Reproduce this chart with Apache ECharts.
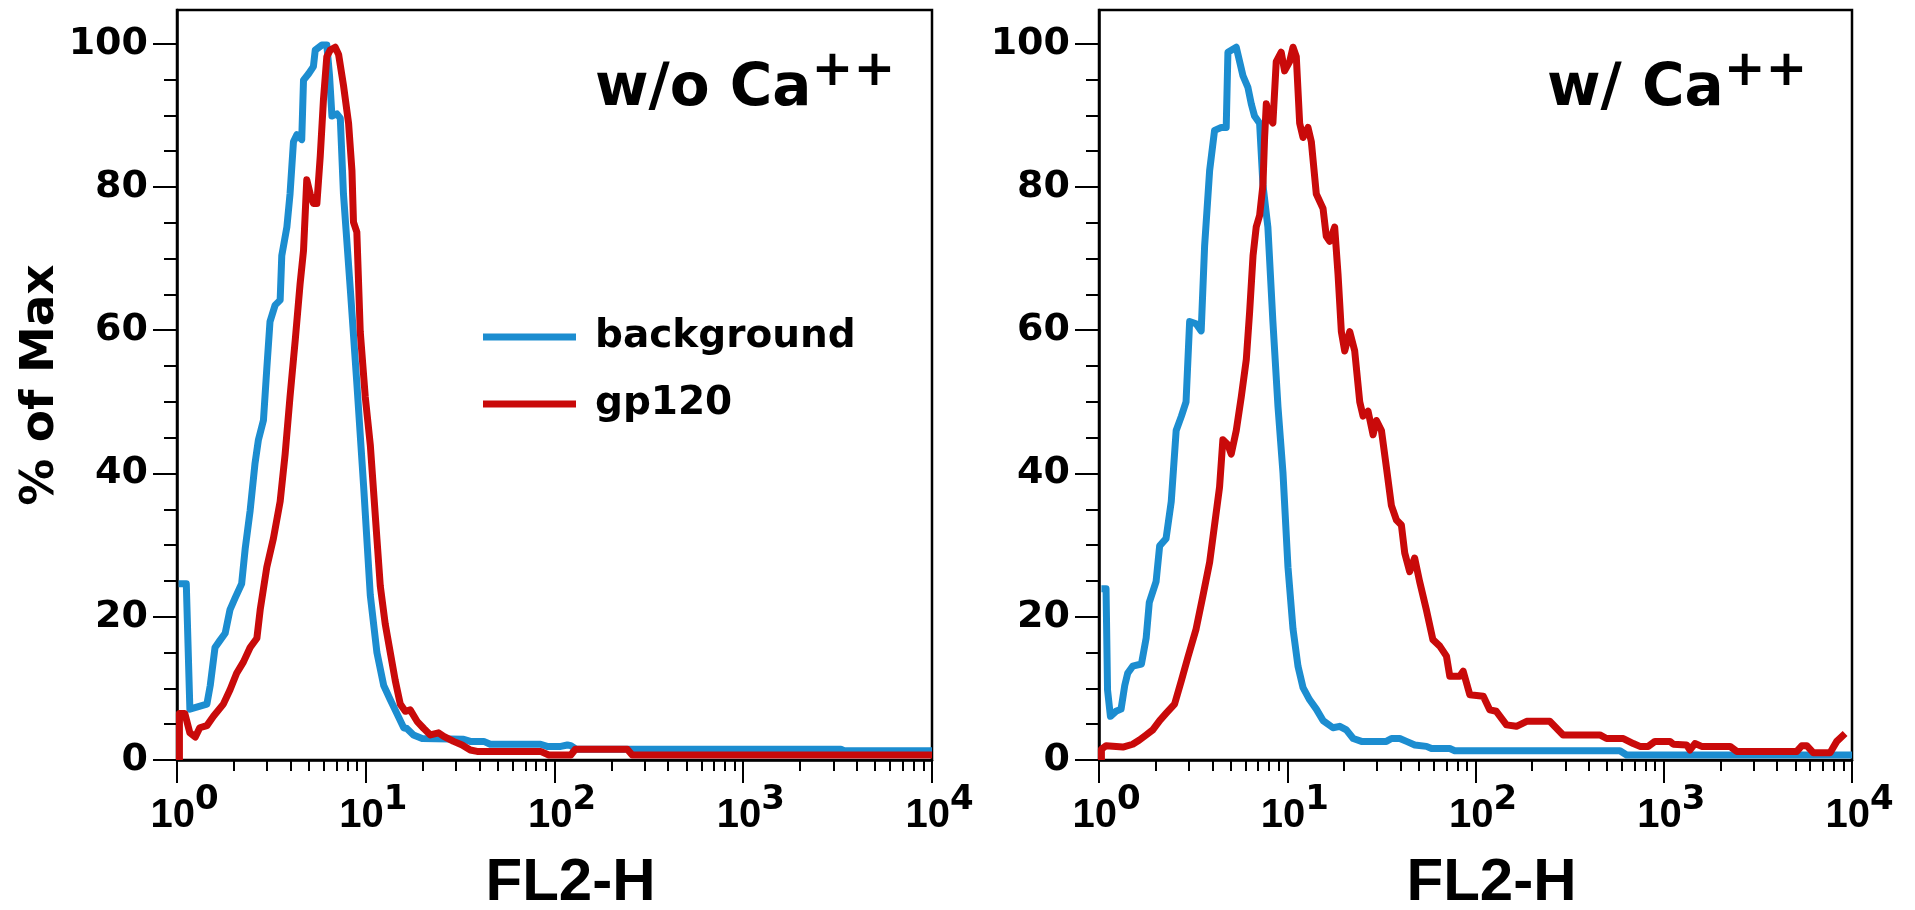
<!DOCTYPE html>
<html>
<head>
<meta charset="utf-8">
<script src="https://cdn.jsdelivr.net/npm/echarts@6/dist/echarts.min.js"></script>
<style>
html,body{margin:0;padding:0;background:#fff;}
#chart{width:1915px;height:910px;}
</style>
</head>
<body>
<div id="chart"></div>
<script>
// ---- data (FL2-H value, % of Max) ----
const bgNoCa = [[1.02,24.6],[1.12,24.6],[1.17,7.1],[1.44,7.8],[1.50,10.4],[1.59,15.7],[1.69,16.7],[1.80,17.7],[1.91,21.0],[2.03,22.6],[2.20,24.6],[2.30,29.6],[2.44,34.8],[2.59,41.4],[2.70,44.7],[2.87,47.4],[2.99,54.6],[3.11,61.2],[3.31,63.5],[3.52,64.2],[3.59,70.4],[3.82,74.4],[3.97,79.0],[4.14,86.3],[4.32,87.3],[4.58,86.6],[4.68,94.9],[4.98,95.8],[5.28,96.8],[5.40,99.1],[5.85,99.8],[6.22,99.8],[6.43,95.5],[6.62,89.9],[7.03,90.2],[7.33,89.6],[7.62,79.0],[8.28,65.8],[8.97,52.6],[9.75,38.1],[10.57,23.0],[11.46,15.0],[12.45,10.4],[13.49,8.4],[14.62,6.5],[15.89,4.5],[16.5,4.4],[17.9,3.5],[19.9,3.0],[33,2.9],[35.8,2.6],[42.2,2.6],[45.7,2.2],[84.3,2.2],[91.4,1.9],[108,1.9],[117,2.1],[122,2.0],[130,1.5],[253,1.5],[3290,1.5],[3430,1.3],[10000,1.3]];
const gpNoCa = [[1.03,0],[1.03,6.5],[1.10,6.5],[1.17,3.8],[1.25,3.2],[1.32,4.5],[1.44,4.8],[1.56,6.1],[1.76,7.8],[1.91,9.8],[2.07,12.1],[2.25,13.7],[2.44,15.7],[2.65,17.0],[2.76,21.0],[2.99,26.9],[3.24,30.9],[3.52,36.1],[3.74,42.7],[3.97,50.7],[4.23,58.6],[4.49,66.5],[4.68,71.1],[4.87,81.0],[5.08,79.0],[5.28,77.7],[5.51,77.7],[5.74,84.3],[5.97,92.2],[6.22,98.2],[6.48,99.1],[6.89,99.5],[7.18,98.5],[7.62,94.2],[8.11,88.9],[8.45,82.3],[8.61,75.1],[8.97,73.7],[9.35,59.8],[9.94,50.7],[10.57,44.0],[11.46,30.9],[11.94,24.3],[12.68,19.0],[13.49,15.0],[14.33,11.1],[15.24,7.8],[16.2,6.8],[17.2,7.0],[18.7,5.4],[20.3,4.4],[22.0,3.5],[24.3,3.8],[25.9,3.3],[29.2,2.6],[32.4,2.1],[35.8,1.4],[38.9,1.2],[84.3,1.2],[93.3,0.7],[122,0.7],[129,1.5],[243,1.5],[258,0.7],[10000,0.7]];
const bgCa = [[1.03,23.9],[1.09,23.9],[1.11,9.8],[1.15,6.1],[1.23,6.8],[1.31,7.1],[1.37,10.4],[1.42,12.1],[1.51,13.1],[1.68,13.4],[1.78,17.0],[1.85,22.0],[2.01,24.9],[2.10,29.9],[2.27,30.9],[2.42,36.1],[2.57,46.0],[2.74,48.0],[2.90,50.0],[3.03,61.2],[3.28,60.9],[3.49,59.9],[3.64,71.8],[3.87,82.3],[4.11,87.9],[4.46,88.3],[4.74,88.3],[4.84,98.8],[5.36,99.5],[5.82,95.5],[6.18,93.9],[6.44,91.6],[6.70,89.9],[7.13,88.9],[7.43,80.3],[7.89,74.4],[8.39,61.2],[8.93,49.3],[9.49,40.1],[10.09,26.9],[10.73,18.3],[11.40,13.1],[12.13,10.1],[13.15,8.4],[14.27,7.1],[15.49,5.5],[17.50,4.5],[19.0,4.7],[20.6,4.2],[22.4,3.0],[24.8,2.6],[33.6,2.6],[35.8,3.0],[39.6,3.0],[43,2.6],[47.6,2.1],[54.9,1.9],[58.4,1.6],[73,1.6],[77.6,1.3],[585,1.3],[635,0.7],[10000,0.7]];
const gpCa = [[1.03,0],[1.03,1.5],[1.09,2.0],[1.34,1.8],[1.51,2.2],[1.64,2.8],[1.78,3.5],[1.93,4.2],[2.10,5.5],[2.27,6.5],[2.52,7.8],[2.74,11.1],[2.97,14.4],[3.28,18.3],[3.57,23.0],[3.87,27.6],[4.11,32.8],[4.37,38.1],[4.55,44.7],[4.84,44.0],[5.04,42.7],[5.36,46.0],[5.70,50.7],[6.06,55.9],[6.31,62.5],[6.58,70.4],[6.84,74.4],[7.13,76.0],[7.43,80.3],[7.58,86.9],[7.74,91.6],[8.06,89.6],[8.39,88.9],[8.74,97.5],[9.29,98.8],[9.68,96.2],[10.30,97.5],[10.73,99.5],[11.17,98.2],[11.64,88.9],[12.13,86.9],[12.89,88.3],[13.43,86.3],[14.27,79.0],[15.49,77.0],[16.12,73.1],[16.80,72.4],[17.86,74.4],[18.61,67.8],[19.38,59.8],[20.19,57.1],[21.47,59.8],[22.82,57.1],[24.27,50.0],[25.29,48.0],[26.87,48.7],[28.57,45.4],[29.77,47.4],[31.65,46.0],[33.65,40.8],[35.76,35.5],[38.02,33.5],[40.40,32.8],[42.08,28.9],[44.7,26.3],[47.5,28.2],[50.5,24.9],[54.8,21.0],[59.4,16.8],[64.6,15.9],[70.1,14.5],[73,11.7],[82.5,11.7],[86,12.4],[93.3,9.1],[110,8.9],[119,7.0],[129,6.8],[146,4.9],[165,4.7],[187,5.4],[248,5.4],[292,3.5],[458,3.5],[497,3.0],[610,3.0],[689,2.3],[747,1.9],[827,1.9],[898,2.6],[1079,2.6],[1123,2.2],[1323,2.1],[1378,1.4],[1465,2.3],[1590,1.9],[2250,1.9],[2443,1.2],[5090,1.2],[5410,2.0],[5750,2.0],[6240,1.0],[7650,1.0],[8300,2.6],[9190,3.7]];

// ---- ticks / labels ----
const xMajorTicks = [1,10,100,1000,10000];
const xMinorTicks = [2,3,4,5,6,7,8,9,20,30,40,50,60,70,80,90,200,300,400,500,600,700,800,900,2000,3000,4000,5000,6000,7000,8000,9000];
const yMajorTicks = [0,20,40,60,80,100];
const yMinorTicks = [5,10,15,25,30,35,45,50,55,65,70,75,85,90,95];
const seriesNames = ['background','gp120'];
const panelTitles = ['w/o Ca','w/ Ca'];
const titleSup = '++';
const xName = 'FL2-H';
const yName = '% of Max';

const BLUE = '#1c8dd0';
const RED = '#c90a0a';
const DV = 'DejaVu Sans';
const LS = 'Liberation Sans';

const grids = [
  {left:177, top:10, width:755, height:750},
  {left:1099, top:10, width:753, height:750}
];

const xAxes = [], yAxes = [];
grids.forEach((g, gi) => {
  xAxes.push({
    type:'log', logBase:10, gridIndex:gi, min:1, max:10000, position:'bottom',
    axisLine:{show:true, onZero:false, lineStyle:{color:'#000', width:2.5}},
    axisTick:{show:true, customValues:xMajorTicks, length:23, lineStyle:{color:'#000', width:2}},
    minorTick:{show:false}, splitLine:{show:false},
    axisLabel:{
      show:true, customValues:xMajorTicks, margin:24, padding:[0,0,0,15],
      formatter:function(v){ return '{b|10}{e|' + Math.round(Math.log10(v)) + '}'; },
      rich:{
        b:{fontFamily:LS, fontWeight:'bold', fontSize:40, height:40, lineHeight:52, verticalAlign:'bottom', color:'#000'},
        e:{fontFamily:DV, fontWeight:'bold', fontSize:34, height:32, verticalAlign:'top', color:'#000'}
      }
    },
    name:xName, nameLocation:'middle', nameGap:93,
    nameTextStyle:{fontFamily:LS, fontWeight:'bold', fontSize:60, color:'#000', padding:[0,0,0,32]}
  });
  xAxes.push({
    type:'log', logBase:10, gridIndex:gi, min:1, max:10000, position:'bottom',
    axisLine:{show:false, onZero:false},
    axisTick:{show:true, customValues:xMinorTicks, length:11, lineStyle:{color:'#000', width:2}},
    axisLabel:{show:false}, splitLine:{show:false}, minorTick:{show:false}
  });
  const ym = {
    type:'value', gridIndex:gi, min:0, max:104.7, position:'left',
    axisLine:{show:true, onZero:false, lineStyle:{color:'#000', width:2.5}},
    axisTick:{show:true, customValues:yMajorTicks, length:24, lineStyle:{color:'#000', width:2}},
    splitLine:{show:false}, minorTick:{show:false},
    axisLabel:{show:true, customValues:yMajorTicks, margin:29, fontFamily:DV, fontWeight:'bold', fontSize:38, color:'#000'}
  };
  if (gi === 0) {
    ym.name = yName; ym.nameLocation = 'middle'; ym.nameGap = 109;
    ym.nameTextStyle = {fontFamily:DV, fontWeight:'bold', fontSize:47, color:'#000'};
  }
  yAxes.push(ym);
  yAxes.push({
    type:'value', gridIndex:gi, min:0, max:104.7, position:'left', offset:0,
    axisLine:{show:false, onZero:false},
    axisTick:{show:true, customValues:yMinorTicks, length:13, lineStyle:{color:'#000', width:2}},
    axisLabel:{show:false}, splitLine:{show:false}, minorTick:{show:false}
  });
});

function lineSeries(name, data, gi, color) {
  return {
    type:'line', name:name, data:data, xAxisIndex:gi*2, yAxisIndex:gi*2,
    showSymbol:false, symbol:'none', smooth:false, clip:true,
    lineStyle:{color:color, width:7, join:'round', cap:'butt'}, itemStyle:{color:color},
    emphasis:{disabled:true}
  };
}

const titleRich = {
  m:{fontFamily:DV, fontWeight:'bold', fontSize:58, height:58, lineHeight:72, verticalAlign:'bottom', color:'#000'},
  s:{fontFamily:DV, fontWeight:'bold', fontSize:50, height:51, verticalAlign:'top', color:'#000'}
};

const option = {
  animation:false,
  backgroundColor:'#fff',
  title:[
    {left:595, top:47, padding:0, text:'{m|' + panelTitles[0] + '}{s|' + titleSup + '}', textStyle:{rich:titleRich}},
    {left:1547, top:47, padding:0, text:'{m|' + panelTitles[1] + '}{s|' + titleSup + '}', textStyle:{rich:titleRich}}
  ],
  legend:{
    data:seriesNames, orient:'vertical', left:483, top:317, padding:0,
    itemWidth:93, itemHeight:7, itemGap:27, icon:'rect',
    textStyle:{fontFamily:DV, fontWeight:'bold', fontSize:39, lineHeight:40, color:'#000', padding:[0,0,0,14]},
    selectedMode:false
  },
  grid:grids.map(g => Object.assign({show:true, borderColor:'#000', borderWidth:2.5, backgroundColor:'transparent', containLabel:false, outerBoundsMode:'none'}, g)),
  xAxis:xAxes,
  yAxis:yAxes,
  series:[
    lineSeries(seriesNames[0], bgNoCa, 0, BLUE),
    lineSeries(seriesNames[1], gpNoCa, 0, RED),
    lineSeries(seriesNames[0], bgCa, 1, BLUE),
    lineSeries(seriesNames[1], gpCa, 1, RED)
  ]
};

const chart = echarts.init(document.getElementById('chart'), null, {renderer:'canvas'});
chart.setOption(option);
</script>
</body>
</html>
